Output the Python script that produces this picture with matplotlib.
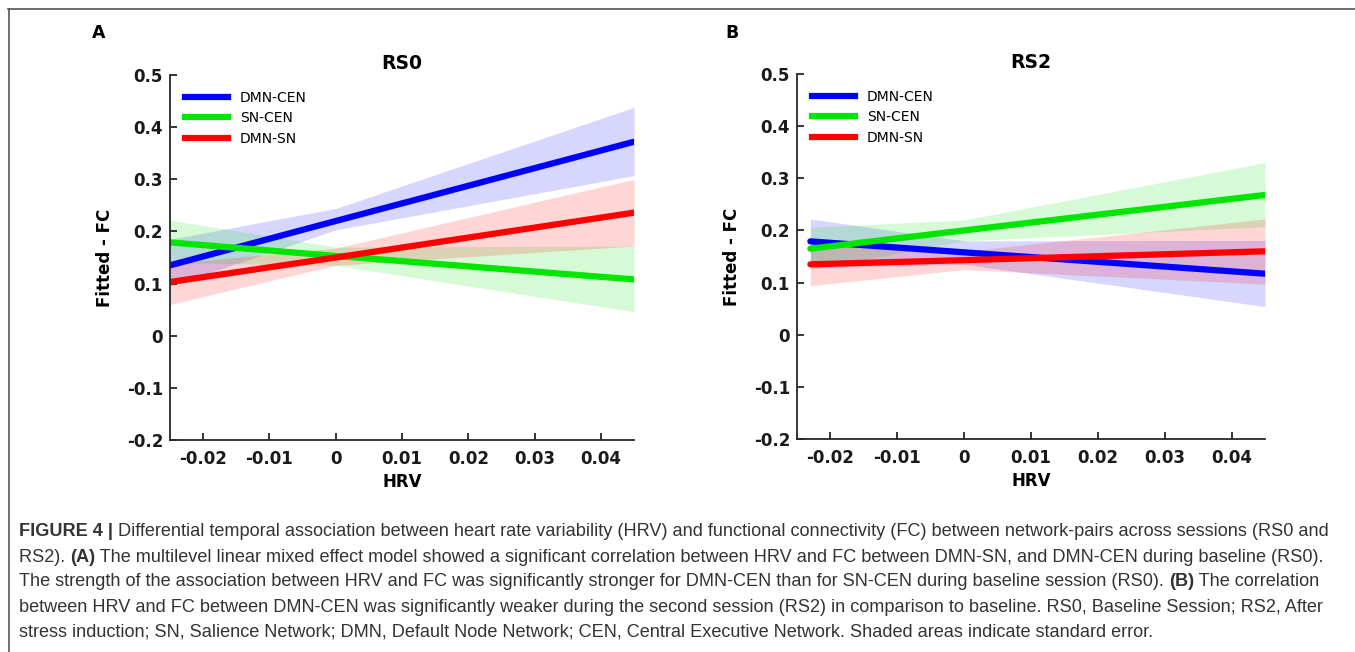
import matplotlib
matplotlib.use("Agg")
import matplotlib.pyplot as plt
from matplotlib.lines import Line2D

# values at left edge, x=0 and right edge of each fit
labels = ["DMN-CEN", "SN-CEN", "DMN-SN"]
colors = ["#0000ff", "#00e600", "#ff0000"]

hrv_rs0 = [-0.025, 0.0, 0.045]
fit_rs0 = {"DMN-CEN": [0.135, 0.220, 0.372],
           "SN-CEN": [0.179, 0.153, 0.108],
           "DMN-SN": [0.103, 0.150, 0.236]}
lo_rs0 = {"DMN-CEN": [0.095, 0.203, 0.307],
          "SN-CEN": [0.140, 0.135, 0.046],
          "DMN-SN": [0.060, 0.135, 0.172]}
hi_rs0 = {"DMN-CEN": [0.185, 0.244, 0.438],
          "SN-CEN": [0.222, 0.170, 0.172],
          "DMN-SN": [0.138, 0.168, 0.300]}

hrv_rs2 = [-0.023, 0.0, 0.045]
fit_rs2 = {"DMN-CEN": [0.179, 0.158, 0.117],
           "SN-CEN": [0.165, 0.200, 0.268],
           "DMN-SN": [0.135, 0.143, 0.160]}
lo_rs2 = {"DMN-CEN": [0.128, 0.135, 0.054],
          "SN-CEN": [0.125, 0.180, 0.207],
          "DMN-SN": [0.094, 0.125, 0.097]}
hi_rs2 = {"DMN-CEN": [0.222, 0.180, 0.181],
          "SN-CEN": [0.206, 0.220, 0.330],
          "DMN-SN": [0.172, 0.160, 0.222]}

xticks = [-0.02, -0.01, 0, 0.01, 0.02, 0.03, 0.04]
yticks = [-0.2, -0.1, 0, 0.1, 0.2, 0.3, 0.4, 0.5]

caption = [
    [("FIGURE 4 |", True), (" Differential temporal association between heart rate variability (HRV) and functional connectivity (FC) between network-pairs across sessions (RS0 and", False)],
    [("RS2). ", False), ("(A)", True), (" The multilevel linear mixed effect model showed a significant correlation between HRV and FC between DMN-SN, and DMN-CEN during baseline (RS0).", False)],
    [("The strength of the association between HRV and FC was significantly stronger for DMN-CEN than for SN-CEN during baseline session (RS0). ", False), ("(B)", True), (" The correlation", False)],
    [("between HRV and FC between DMN-CEN was significantly weaker during the second session (RS2) in comparison to baseline. RS0, Baseline Session; RS2, After", False)],
    [("stress induction; SN, Salience Network; DMN, Default Node Network; CEN, Central Executive Network. Shaded areas indicate standard error.", False)],
]

W, H = 1355, 652
fig = plt.figure(figsize=(W / 100, H / 100), dpi=100)


def draw_panel(rect, x, fit, lo, hi, title):
    ax = fig.add_axes(rect)
    for lab, c in zip(labels, colors):
        ax.fill_between(x, lo[lab], hi[lab], color=c, alpha=0.16, linewidth=0)
    for lab, c in zip(labels, colors):
        ax.plot(x, fit[lab], color=c, lw=4.5, solid_capstyle="round", label=lab)
    ax.set_xlim(-0.025, 0.045)
    ax.set_ylim(-0.2, 0.5)
    ax.set_xticks(xticks)
    ax.set_xticklabels(["%g" % t for t in xticks])
    ax.set_yticks(yticks)
    ax.set_yticklabels(["%g" % t for t in yticks])
    for s in ["top", "right"]:
        ax.spines[s].set_visible(False)
    for s in ["left", "bottom"]:
        ax.spines[s].set_color("#262626")
        ax.spines[s].set_linewidth(1.3)
    ax.tick_params(direction="in", length=5, width=1.3, color="#262626")
    ax.tick_params(axis="x", pad=7)
    ax.tick_params(axis="y", pad=5)
    for t in ax.get_xticklabels() + ax.get_yticklabels():
        t.set_fontweight("bold")
        t.set_fontsize(12)
        t.set_color("#1a1a1a")
    ax.set_title(title, fontsize=13.5, fontweight="bold", pad=4)
    ax.set_xlabel("HRV", fontsize=12, fontweight="bold", labelpad=4)
    ax.set_ylabel("Fitted - FC", fontsize=12, fontweight="bold", labelpad=9)
    handles = [Line2D([], [], color=c, lw=4.5) for c in colors]
    ax.legend(handles, labels, loc="upper left", bbox_to_anchor=(0.032, 0.956),
              frameon=False, fontsize=10, handlelength=3.1, handletextpad=0.85,
              labelspacing=0.45, borderpad=0, borderaxespad=0)
    return ax


draw_panel([170 / W, 1 - 440 / H, 464 / W, 365 / H], hrv_rs0, fit_rs0, lo_rs0, hi_rs0, "RS0")
draw_panel([797 / W, 1 - 439 / H, 468 / W, 365 / H], hrv_rs2, fit_rs2, lo_rs2, hi_rs2, "RS2")

fig.text(92 / W, 1 - 33 / H, "A", fontsize=12.5, fontweight="bold", va="center")
fig.text(725 / W, 1 - 33 / H, "B", fontsize=12.5, fontweight="bold", va="center")

# frame lines at top and left
fig.add_artist(Line2D([8 / W, 1], [1 - 8.5 / H, 1 - 8.5 / H], color="#555555", lw=1.2))
fig.add_artist(Line2D([8.5 / W, 8.5 / W], [0, 1 - 8.5 / H], color="#555555", lw=1.2))

cap_font = ["Liberation Sans", "DejaVu Sans"]
for i, line in enumerate(caption):
    y = 1 - (532 + 25 * i) / H
    last = None
    for txt, bold in line:
        kw = dict(fontsize=13.1, family=cap_font, color="#333333",
                  fontweight="bold" if bold else "normal", va="center", ha="left")
        if last is None:
            last = fig.text(19 / W, y, txt, **kw)
        else:
            last = plt.annotate(txt, xy=(1, 0.5), xycoords=last, **kw)

fig.savefig("out.png", dpi=100)
